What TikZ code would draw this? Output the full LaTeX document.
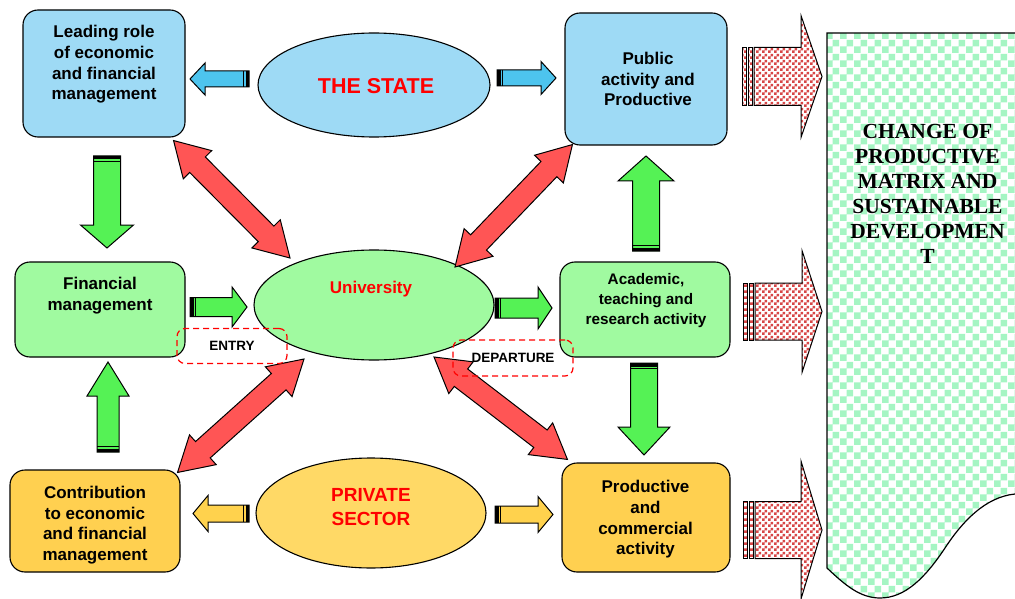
\documentclass[tikz,border=0pt]{standalone}
\usepackage{fontspec}
\setmainfont{Liberation Sans}
\newfontfamily\serifbf{Liberation Serif}
\usetikzlibrary{shapes.geometric,calc,patterns}

\pgfdeclarepatternformonly{bigcheck}{\pgfpointorigin}{\pgfqpoint{14pt}{14pt}}{\pgfqpoint{14pt}{14pt}}{%
  \pgfpathrectangle{\pgfpointorigin}{\pgfqpoint{7pt}{7pt}}%
  \pgfpathrectangle{\pgfqpoint{7pt}{7pt}}{\pgfqpoint{7pt}{7pt}}%
  \pgfusepath{fill}}
\pgfdeclarepatternformonly{smallcheck}{\pgfpointorigin}{\pgfqpoint{6pt}{6pt}}{\pgfqpoint{6pt}{6pt}}{%
  \pgfpathrectangle{\pgfpointorigin}{\pgfqpoint{3pt}{3pt}}%
  \pgfpathrectangle{\pgfqpoint{3pt}{3pt}}{\pgfqpoint{3pt}{3pt}}%
  \pgfusepath{fill}}

\definecolor{boxblue}{RGB}{158,218,245}
\definecolor{arrblue}{RGB}{77,196,238}
\definecolor{boxgreen}{RGB}{160,250,160}
\definecolor{arrgreen}{RGB}{85,242,85}
\definecolor{boxorange}{RGB}{255,208,80}
\definecolor{ellorange}{RGB}{255,217,102}
\definecolor{arryellow}{RGB}{255,210,77}
\definecolor{arrred}{RGB}{255,85,85}
\definecolor{checkred}{RGB}{215,70,70}
\definecolor{checkgreen}{RGB}{165,245,195}
\definecolor{txtred}{RGB}{255,0,0}

\newcommand\DblArr[2]{\draw[dblarrow] let \p1=($(#2)-(#1)$), \n1={atan2(\y1,\x1)}, \n2={veclen(\x1,\y1)} in
  [shift={(#1)}, rotate=\n1] (0pt,0pt) -- (34pt,20pt) -- (34pt,11pt) -- (\n2-34pt,11pt) -- (\n2-34pt,20pt) -- (\n2,0pt)
  -- (\n2-34pt,-20pt) -- (\n2-34pt,-11pt) -- (34pt,-11pt) -- (34pt,-20pt) -- cycle;}

\tikzset{
  box/.style={draw, line width=1.1pt, rounded corners=15pt, inner sep=0pt},
  oval/.style={draw, ellipse, line width=1.1pt, inner sep=0pt},
  btxt/.style={font=\fontsize{17}{20.7}\selectfont\bfseries, align=center, inner sep=0pt},
  otxt/.style={font=\fontsize{21.5}{24}\selectfont\bfseries, text=txtred, align=center, inner sep=0pt},
  blockarr/.style={draw=black, line width=1pt, line join=miter},
  dashbox/.style={draw=red, dash pattern=on 6pt off 4pt, line width=1.2pt, rounded corners=8pt, inner sep=0pt,
    font=\fontsize{13.5}{15}\selectfont\bfseries},
  dblarrow/.style={draw=black, fill=arrred, line width=1pt, line join=miter},
  checkarr/.style={draw=black, line width=1pt, pattern=smallcheck, pattern color=checkred, line join=miter},
  pics/blockarrow/.style n args={4}{code={
    \path[pic actions] (0,-#2) -- (#1-#4,-#2) -- (#1-#4,-#3) -- (#1,0) -- (#1-#4,#3) -- (#1-#4,#2) -- (0,#2) -- cycle;
    \fill[black] (0,-#2) rectangle (3.5,#2);
    \draw[black, line width=1pt] (5.8,-#2) -- (5.8,#2);
  }},
  pics/checkarrow/.style n args={4}{code={
    \path[pic actions, line width=0.7pt] (0,-#2) rectangle (4.5,#2);
    \path[pic actions, line width=0.7pt] (6,-#2) rectangle (10.5,#2);
    \path[pic actions] (12,-#2) -- (#1-#4,-#2) -- (#1-#4,-#3) -- (#1,0) -- (#1-#4,#3) -- (#1-#4,#2) -- (12,#2) -- cycle;
  }}
}

\begin{document}
\begin{tikzpicture}[x=1pt, y=-1pt]
\useasboundingbox (0,0) rectangle (1015,599);

% checkered result area
\draw[line width=1.2pt, pattern=bigcheck, pattern color=checkgreen]
  (1030,33) -- (827,33) -- (827,568)
  .. controls (845,585) and (860,598) .. (880,598)
  .. controls (905,598) and (925,578) .. (945,548)
  .. controls (962,522) and (985,497) .. (1015,494) -- (1030,494) -- cycle;
\node[font=\serifbf\fontsize{21.5}{25}\selectfont\bfseries, align=center, inner sep=0pt] (chg) at (927.5,193.5)
  {CHANGE OF\\PRODUCTIVE\\MATRIX AND\\SUSTAINABLE\\DEVELOPMEN\\T};

% red checkered arrows
\pic[checkarr] (ca1) at (742,76.5) {checkarrow={80}{29}{61}{21}};
\pic[checkarr] (ca2) at (743,311.5) {checkarrow={79}{28.5}{61}{20}};
\pic[checkarr] (ca3) at (743,530) {checkarrow={79}{28.5}{69}{21}};

% boxes
\node[box, fill=boxblue, minimum width=162pt, minimum height=127pt] (b1) at (104,73.5) {};
\node[box, fill=boxblue, minimum width=162pt, minimum height=132pt] (b2) at (646,79) {};
\node[box, fill=boxgreen, minimum width=170pt, minimum height=95pt] (b3) at (100,309.5) {};
\node[box, fill=boxgreen, minimum width=170pt, minimum height=95pt] (b4) at (645,309.5) {};
\node[box, fill=boxorange, minimum width=170pt, minimum height=102pt] (b5) at (95,521) {};
\node[box, fill=boxorange, minimum width=168pt, minimum height=109pt] (b6) at (646,517.5) {};

% ellipses
\node[oval, fill=boxblue, minimum width=232pt, minimum height=104pt] (state) at (374,85) {};
\node[oval, fill=boxgreen, minimum width=240pt, minimum height=110pt] (uni) at (374,305) {};
\node[oval, fill=ellorange, minimum width=230pt, minimum height=110pt] (priv) at (371,513) {};

% block arrows
\pic[blockarr, fill=arrblue, rotate=180] (a1) at (249,79) {blockarrow={59}{8}{16}{15}};
\pic[blockarr, fill=arrblue] (a2) at (497,78) {blockarrow={59}{8}{16.5}{15}};
\pic[blockarr, fill=arrgreen, rotate=-90] (a3) at (107,156) {blockarrow={92}{13.5}{26.5}{23}};
\pic[blockarr, fill=arrgreen, rotate=90] (a4) at (108,452) {blockarrow={90}{11}{21}{34}};
\pic[blockarr, fill=arrgreen, rotate=90] (a5) at (646,251) {blockarrow={95}{13.5}{28}{25}};
\pic[blockarr, fill=arrgreen, rotate=-90] (a6) at (644,363) {blockarrow={92}{13.5}{26}{28}};
\pic[blockarr, fill=arrgreen] (a7) at (190,307) {blockarrow={57}{9.5}{20}{15}};
\pic[blockarr, fill=arrgreen] (a8) at (495,308) {blockarrow={57}{10}{21}{14}};
\pic[blockarr, fill=arryellow, rotate=180] (a9) at (249,513.5) {blockarrow={56}{8.5}{18}{15}};
\pic[blockarr, fill=arryellow] (a10) at (495,514.5) {blockarrow={58}{8.5}{18}{15}};

% red double arrows
\coordinate (d1a) at ($(b1.south east)+(-12,3)$);
\coordinate (d1b) at ($(uni.center)+(-84,-47)$);
\coordinate (d2a) at ($(b2.south west)+(8,-1)$);
\coordinate (d2b) at ($(uni.center)+(81,-38)$);
\coordinate (d3a) at ($(uni.center)+(-70,54)$);
\coordinate (d3b) at ($(b5.north east)+(-3,3)$);
\coordinate (d4a) at ($(uni.center)+(60,52)$);
\coordinate (d4b) at ($(b6.north west)+(6,-3)$);
\DblArr{d1a}{d1b}
\DblArr{d2a}{d2b}
\DblArr{d3a}{d3b}
\DblArr{d4a}{d4b}

% dashed labels
\node[dashbox, minimum width=110pt, minimum height=35pt] (entry) at (232,346) {ENTRY};
\node[dashbox, minimum width=120pt, minimum height=36pt] (depart) at (513,358) {DEPARTURE};

% texts
\node[btxt] (t1) at (104,64.5) {Leading role\\of economic\\and financial\\management};
\node[btxt] (t2) at (648,79) {Public\\activity and\\Productive};
\node[btxt] (t3) at (100,295.5) {Financial\\management};
\node[btxt, font=\fontsize{15.3}{20}\selectfont\bfseries] (t4) at (646,301) {Academic,\\teaching and\\research activity};
\node[btxt] (t5) at (95,525) {Contribution\\to economic\\and financial\\management};
\node[btxt] (t6) at (645.5,519.5) {Productive\\and\\commercial\\activity};
\node[otxt] (ts) at (376,86) {THE STATE};
\node[otxt, font=\fontsize{17}{20}\selectfont\bfseries] (tu) at (371,289) {University};
\node[otxt, font=\fontsize{19}{24}\selectfont\bfseries] (tp) at (371,507) {PRIVATE\\SECTOR};
\end{tikzpicture}
\end{document}
